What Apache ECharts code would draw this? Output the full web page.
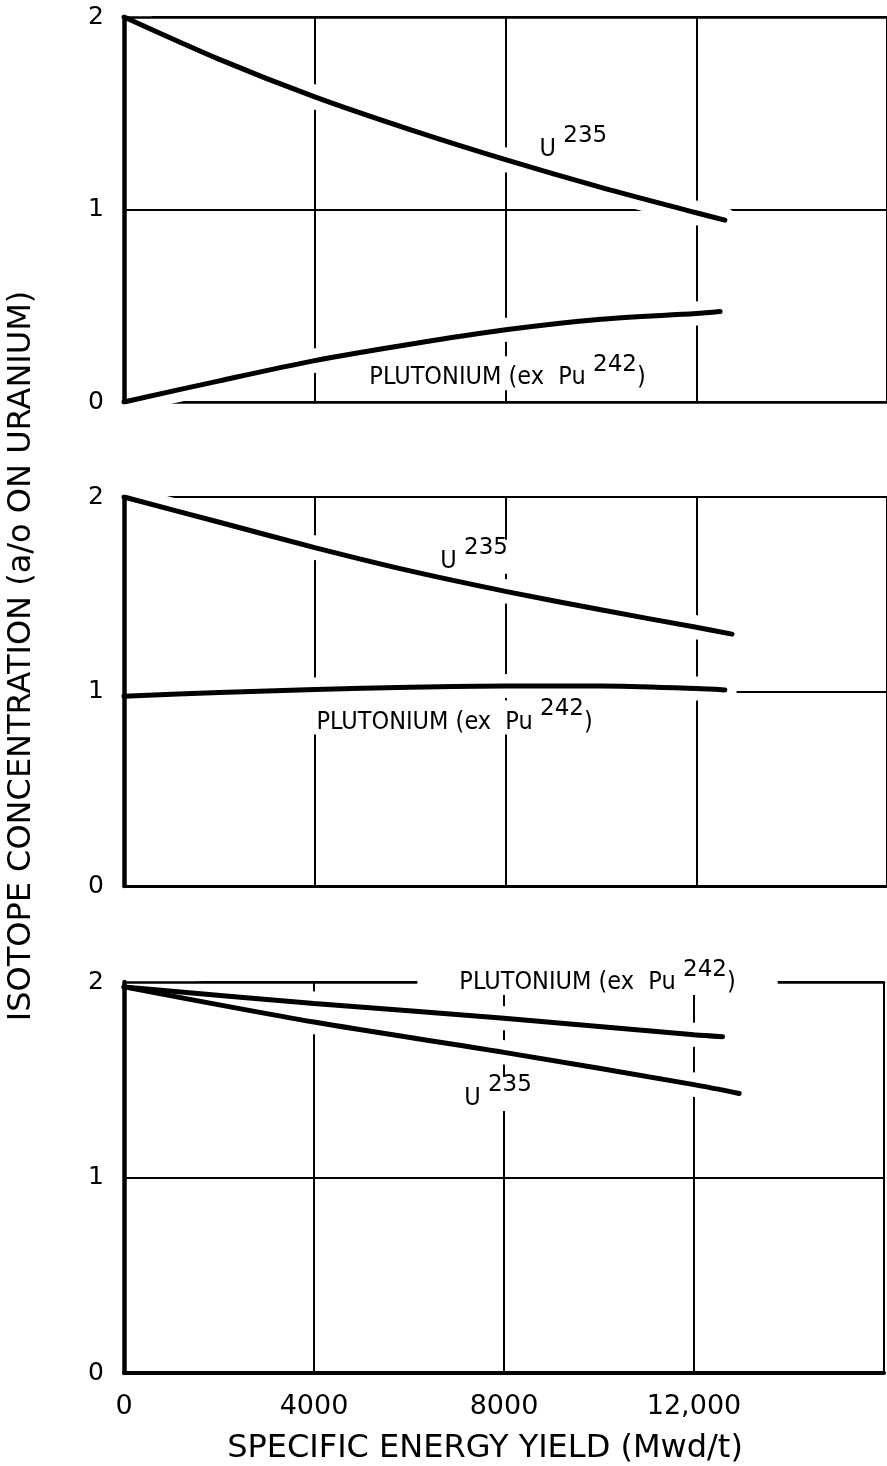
<!DOCTYPE html>
<html>
<head>
<meta charset="utf-8">
<script src="https://cdn.jsdelivr.net/npm/echarts@6/dist/echarts.min.js"></script>
<style>
  html, body { margin: 0; padding: 0; background: #fff; }
  #chart { width: 887px; height: 1466px; }
</style>
</head>
<body>
<div id="chart"></div>
<script>
// Axis ticks
const burnupTickLabels = ['0', '4000', '8000', '12,000', ''];
const concTickLabels = ['0', '1', '2'];

// Upper panel
const p1U235X = [0, 2000, 4000, 6000, 8000, 10000, 12000, 12600];
const p1U235Y = [2.00, 1.78, 1.585, 1.415, 1.259, 1.115, 0.983, 0.945];
const p1PuX = [0, 2000, 4000, 6000, 8000, 10000, 12000, 12500];
const p1PuY = [0.00, 0.11, 0.215, 0.30, 0.375, 0.43, 0.46, 0.47];

// Middle panel
const p2U235X = [0, 2000, 4000, 6000, 8000, 10000, 12000, 12750];
const p2U235Y = [2.00, 1.87, 1.74, 1.62, 1.515, 1.42, 1.33, 1.295];
const p2PuX = [0, 2000, 4000, 6000, 8000, 10000, 12000, 12600];
const p2PuY = [0.975, 0.995, 1.01, 1.022, 1.028, 1.028, 1.015, 1.008];

// Lower panel
const p3U235X = [0, 4000, 8000, 12000, 12950];
const p3U235Y = [1.975, 1.795, 1.64, 1.475, 1.43];
const p3PuX = [0, 4000, 8000, 12000, 12600];
const p3PuY = [1.975, 1.89, 1.815, 1.73, 1.72];

const panels = [
  { curves: [[p1U235X, p1U235Y], [p1PuX, p1PuY]] },
  { curves: [[p2U235X, p2U235Y], [p2PuX, p2PuY]] },
  { curves: [[p3U235X, p3U235Y], [p3PuX, p3PuY]] }
];

const NARROW = '"DejaVu Sans Condensed", "DejaVu Sans", sans-serif';
const WIDE = '"DejaVu Sans", sans-serif';

const grids = [
  { left: 124, top: 17, width: 764, height: 385 },
  { left: 124, top: 497, width: 764, height: 389 },
  { left: 124, top: 982, width: 764, height: 391 }
];
const bottomWidth = [2.5, 3, 4];
const topLineShown = [true, false, true];

const xAxes = [], yAxes = [], series = [];

grids.forEach(function (g, i) {
  // grid lines and bottom line (below the curve halos)
  xAxes.push({
    gridIndex: i, type: 'value', min: 0, max: 16000, interval: 4000, z: 0,
    axisLine: { show: true, onZero: false, lineStyle: { color: '#000', width: bottomWidth[i] } },
    axisTick: { show: false },
    axisLabel: {
      show: i === 2, margin: 20, color: '#000', fontSize: 27, fontFamily: WIDE,
      formatter: function (v) { return burnupTickLabels[Math.round(v / 4000)]; }
    },
    splitLine: { show: true, lineStyle: { color: '#000', width: 2 } }
  });
  // top frame line (above the halos)
  xAxes.push({
    gridIndex: i, type: 'value', min: 0, max: 16000, position: 'top', z: 3,
    axisLine: { show: topLineShown[i], onZero: false, lineStyle: { color: '#000', width: 2.5 } },
    axisTick: { show: false }, axisLabel: { show: false }, splitLine: { show: false }
  });
  yAxes.push({
    gridIndex: i, type: 'value', min: 0, max: 2, interval: 1, z: 0,
    axisLine: { show: false }, axisTick: { show: false }, axisLabel: { show: false },
    splitLine: { show: true, lineStyle: { color: '#000', width: 2 } }
  });
  // left axis with tick labels
  yAxes.push({
    gridIndex: i, type: 'value', min: 0, max: 2, interval: 1, z: 3, position: 'left',
    axisLine: { show: true, onZero: false, lineStyle: { color: '#000', width: 4.5 } },
    axisTick: { show: false },
    axisLabel: {
      margin: 20, color: '#000', fontSize: 25, fontFamily: WIDE,
      formatter: function (v) { return concTickLabels[Math.round(v)]; }
    },
    splitLine: { show: false }
  });

  panels[i].curves.forEach(function (c) {
    const pts = c[0].map(function (x, k) { return [x, c[1][k]]; });
    // white halo breaks the grid lines where a curve crosses them
    series.push({
      type: 'line', xAxisIndex: 2 * i, yAxisIndex: 2 * i, data: pts, z: 1,
      smooth: 0.3, showSymbol: false, silent: true,
      lineStyle: { color: '#fff', width: 24, cap: 'round' }
    });
    series.push({
      type: 'line', xAxisIndex: 2 * i, yAxisIndex: 2 * i, data: pts, z: 2,
      smooth: 0.3, showSymbol: false, silent: true,
      lineStyle: { color: '#000', width: 5, cap: 'round' }
    });
  });
});

// Two-line rich text: the first (1px tall) line carries the superscript,
// the second the main lettering; transparent twins keep both lines equally wide.
const rich = {
  m:  { fontSize: 25, lineHeight: 25, fontFamily: NARROW, color: '#000' },
  pm: { fontSize: 25, lineHeight: 1, fontFamily: NARROW, color: 'rgba(0,0,0,0)' },
  s:  { fontSize: 23, lineHeight: 1, fontFamily: WIDE, color: '#000' },
  ps: { fontSize: 23, lineHeight: 25, fontFamily: WIDE, color: 'rgba(0,0,0,0)' }
};
const u235Text = '{pm|U}{s| 235}\n{m|U}{ps| 235}';
const puText = '{pm|PLUTONIUM (ex  Pu}{s| 242}{pm|)}\n{m|PLUTONIUM (ex  Pu}{ps| 242}{m|)}';

function curveLabel(panel, at, text, padX) {
  return {
    type: 'scatter', xAxisIndex: 2 * panel, yAxisIndex: 2 * panel, z: 4, silent: true,
    clip: false, symbolSize: 1, itemStyle: { color: 'rgba(0,0,0,0)', opacity: 1 },
    data: [at],
    label: {
      show: true, position: 'inside', formatter: text, rich: rich,
      color: '#000', fontSize: 25, fontFamily: NARROW, opacity: 1, textBorderWidth: 0,
      backgroundColor: '#fff', padding: [8, padX, 0, padX]
    }
  };
}
series.push(curveLabel(0, [9424, 1.337], u235Text, 4));
series.push(curveLabel(0, [8042, 0.149], puText, 6));
series.push(curveLabel(1, [7341, 1.693], u235Text, 4));
series.push(curveLabel(1, [6932, 0.866], puText, 6));
series.push(curveLabel(2, [9969, 2.020], puText, 42));
series.push(curveLabel(2, [7874, 1.427], u235Text, 4));

const chart = echarts.init(document.getElementById('chart'), null, { renderer: 'canvas' });
chart.setOption({
  animation: false,
  backgroundColor: '#fff',
  grid: grids,
  xAxis: xAxes,
  yAxis: yAxes,
  series: series,
  graphic: [
    {
      type: 'text', x: 22, y: 656, rotation: Math.PI / 2,
      style: {
        text: 'ISOTOPE CONCENTRATION (a/o ON URANIUM)', x: 0, y: 0,
        font: '32px "DejaVu Sans"', fill: '#000', textAlign: 'center', textVerticalAlign: 'middle'
      }
    },
    {
      type: 'text', x: 485, y: 1449,
      style: {
        text: 'SPECIFIC ENERGY YIELD (Mwd/t)', x: 0, y: 0,
        font: '32px "DejaVu Sans"', fill: '#000', textAlign: 'center', textVerticalAlign: 'middle'
      }
    }
  ]
});
</script>
</body>
</html>
